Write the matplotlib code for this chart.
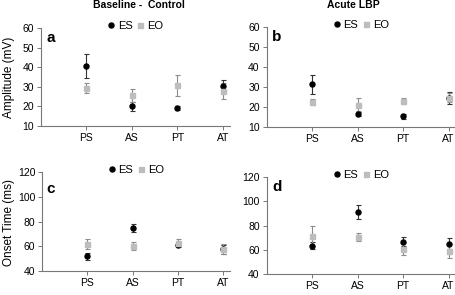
import matplotlib.pyplot as plt

plt.rcParams['font.family'] = ['Liberation Sans', 'DejaVu Sans']

# data
muscles = ['PS', 'AS', 'PT', 'AT']

amp_ctrl_es = [40.7, 20.0, 19.2, 30.5]
amp_ctrl_es_err = [6.1, 2.2, 1.0, 3.1]
amp_ctrl_eo = [29.4, 25.7, 30.8, 27.8]
amp_ctrl_eo_err = [2.5, 3.4, 5.4, 4.0]

amp_lbp_es = [31.5, 16.8, 15.5, 24.7]
amp_lbp_es_err = [4.8, 1.0, 1.3, 3.1]
amp_lbp_eo = [22.8, 21.2, 23.0, 24.7]
amp_lbp_eo_err = [1.5, 3.3, 1.5, 2.2]

ons_ctrl_es = [51.9, 74.6, 60.8, 57.6]
ons_ctrl_es_err = [3.0, 3.2, 1.5, 3.6]
ons_ctrl_eo = [61.9, 60.5, 63.0, 57.6]
ons_ctrl_eo_err = [4.3, 3.2, 3.0, 4.0]

ons_lbp_es = [63.6, 91.4, 66.9, 65.2]
ons_lbp_es_err = [2.5, 6.0, 4.1, 4.7]
ons_lbp_eo = [71.6, 70.7, 61.1, 59.1]
ons_lbp_eo_err = [8.0, 3.6, 5.0, 5.5]

x = [1, 2, 3, 4]

fig = plt.figure(figsize=(4.55, 2.95), dpi=100)

def panel(rect, es, es_err, eo, eo_err, ylim, yticks, letter, letter_pos):
    ax = fig.add_axes(rect)
    ax.errorbar(x, es, yerr=es_err, fmt='none', ecolor='#333333', elinewidth=0.8, capsize=1.8, capthick=0.8, zorder=2)
    ax.errorbar(x, eo, yerr=eo_err, fmt='none', ecolor='#8c8c8c', elinewidth=0.8, capsize=1.8, capthick=0.8, zorder=3)
    ax.plot(x, es, 'o', color='black', markersize=3.6, linestyle='none', label='ES', zorder=4)
    ax.plot(x, eo, 's', color='#bdbdbd', markersize=3.6, linestyle='none', label='EO', zorder=5)
    ax.set_xlim(0, 4.15)
    ax.set_ylim(*ylim)
    ax.set_yticks(yticks)
    ax.set_xticks(x)
    ax.set_xticklabels(muscles)
    for s in ['top', 'right']:
        ax.spines[s].set_visible(False)
    for s in ['left', 'bottom']:
        ax.spines[s].set_color('#777777')
        ax.spines[s].set_linewidth(0.8)
    ax.tick_params(axis='y', labelsize=7.5, length=3, width=0.7, color='#777777', pad=2)
    ax.tick_params(axis='x', labelsize=7.5, length=3, width=0.7, color='#777777', pad=2)
    ax.text(letter_pos[0], letter_pos[1], letter, transform=ax.transAxes, fontsize=11,
            fontweight='bold', va='top', ha='left')
    ax.legend(loc='lower center', bbox_to_anchor=(0.5, 0.97), ncol=2, frameon=False, fontsize=8,
              handlelength=0.6, handletextpad=0.3, columnspacing=0.4, borderpad=0, borderaxespad=0)
    return ax

panel([0.090, 0.573, 0.415, 0.332], amp_ctrl_es, amp_ctrl_es_err, amp_ctrl_eo, amp_ctrl_eo_err,
      (10, 60), [10, 20, 30, 40, 50, 60], 'a', (0.03, 0.97))
panel([0.586, 0.569, 0.415, 0.339], amp_lbp_es, amp_lbp_es_err, amp_lbp_eo, amp_lbp_eo_err,
      (10, 60), [10, 20, 30, 40, 50, 60], 'b', (0.03, 0.97))
panel([0.093, 0.081, 0.412, 0.335], ons_ctrl_es, ons_ctrl_es_err, ons_ctrl_eo, ons_ctrl_eo_err,
      (40, 120), [40, 60, 80, 100, 120], 'c', (0.02, 0.90))
panel([0.586, 0.071, 0.415, 0.328], ons_lbp_es, ons_lbp_es_err, ons_lbp_eo, ons_lbp_eo_err,
      (40, 120), [40, 60, 80, 100, 120], 'd', (0.03, 0.97))

# titles and y labels
fig.text(139 / 455, 1 - 5 / 295, 'Baseline -  Control', fontsize=7.5, fontweight='bold', ha='center', va='center')
fig.text(353 / 455, 1 - 5 / 295, 'Acute LBP', fontsize=7.5, fontweight='bold', ha='center', va='center')
fig.text(9 / 455, 1 - 77 / 295, 'Amplitude (mV)', fontsize=8.5, rotation=90, ha='center', va='center')
fig.text(9 / 455, 1 - 222 / 295, 'Onset Time (ms)', fontsize=8.5, rotation=90, ha='center', va='center')

fig.savefig('out.png', dpi=100)
